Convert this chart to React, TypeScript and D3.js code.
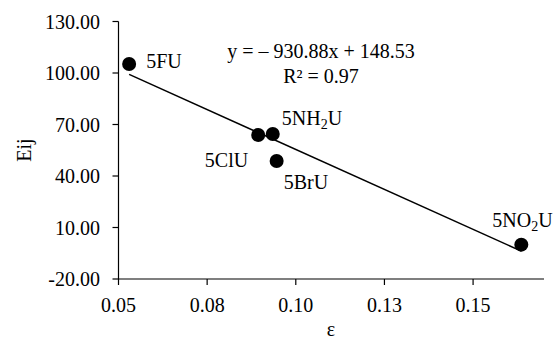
import * as d3 from "d3"

// compound data
const names = ["5FU", "5ClU", "5NH2U", "5BrU", "5NO2U"]
const epsilon = [0.053, 0.0894, 0.0935, 0.0946, 0.1636]
const eij = [105.2, 63.9, 64.5, 48.7, 0.0]

const xTicks = [0.05, 0.075, 0.1, 0.125, 0.15]
const xTickLabels = ["0.05", "0.08", "0.10", "0.13", "0.15"]
const yTicks = [-20, 10, 40, 70, 100, 130]

const slope = -930.88
const intercept = 148.53

// label offsets relative to each dot (dx, dy)
const labelOffsets: [number, number, string][] = [
  [17, 4, "start"],
  [-10, 32, "end"],
  [9, -9, "start"],
  [7, 28, "start"],
  [-29, -18, "start"],
]

const W = 555
const H = 341
const FONT = "'Liberation Serif', 'Times New Roman', serif"

function Label({ text }: { text: string }) {
  // render the 2 in NH2 / NO2 as subscript
  const m = text.match(/^(5N[HO])2(U)$/)
  if (!m) return <>{text}</>
  return (
    <>
      {m[1]}
      <tspan dy={4} fontSize={14}>2</tspan>
      <tspan dy={-4}>{m[2]}</tspan>
    </>
  )
}

export default function App() {
  const x = d3.scaleLinear().domain([0.05, 0.17]).range([118.5, 544])
  const y = d3.scaleLinear().domain([-20, 130]).range([279, 21.5])
  const fmt = (v: number) => v.toFixed(2) // keeps plain hyphen like the original

  const xMin = d3.min(epsilon) as number
  const xMax = d3.max(epsilon) as number
  const trend = d3
    .line<number>()
    .x((d) => x(d))
    .y((d) => y(slope * d + intercept))([xMin, xMax])

  const fs = 20

  return (
    <svg
      width={W}
      height={H}
      style={{ position: "absolute", left: 0, top: 0, background: "#fff" }}
      fontFamily={FONT}
      fill="#000"
    >
      {/* y axis */}
      <line x1={x(0.05)} x2={x(0.05)} y1={y(-20)} y2={y(130)} stroke="#000" strokeWidth={1.2} />
      {yTicks.map((t) => (
        <g key={t}>
          <line x1={x(0.05) - 6} x2={x(0.05)} y1={y(t)} y2={y(t)} stroke="#000" strokeWidth={1.2} />
          <text x={100} y={y(t)} dy="0.35em" textAnchor="end" fontSize={fs}>
            {fmt(t)}
          </text>
        </g>
      ))}

      {/* x axis */}
      <line x1={x(0.05)} x2={x(0.17)} y1={y(-20)} y2={y(-20)} stroke="#000" strokeWidth={1.2} />
      {xTicks.map((t, i) => (
        <g key={t}>
          <line x1={x(t)} x2={x(t)} y1={y(-20)} y2={y(-20) + 6} stroke="#000" strokeWidth={1.2} />
          <text x={x(t)} y={311.5} textAnchor="middle" fontSize={fs}>
            {xTickLabels[i]}
          </text>
        </g>
      ))}

      {/* axis titles */}
      <text x={331} y={336} textAnchor="middle" fontSize={fs}>
        ε
      </text>
      <text transform={`translate(31,150) rotate(-90)`} textAnchor="middle" fontSize={fs}>
        Eij
      </text>

      {/* trend line */}
      <path d={trend ?? ""} fill="none" stroke="#000" strokeWidth={1.5} />

      {/* points */}
      {epsilon.map((e, i) => (
        <circle key={names[i]} cx={x(e)} cy={y(eij[i])} r={7} fill="#000" />
      ))}

      {/* point labels */}
      {epsilon.map((e, i) => {
        const [dx, dy, anchor] = labelOffsets[i]
        return (
          <text
            key={names[i]}
            x={x(e) + dx}
            y={y(eij[i]) + dy}
            textAnchor={anchor as any}
            fontSize={fs}
          >
            <Label text={names[i]} />
          </text>
        )
      })}

      {/* regression equation */}
      <text x={321} y={58} textAnchor="middle" fontSize={fs}>
        y = – 930.88x + 148.53
      </text>
      <text x={321} y={82.5} textAnchor="middle" fontSize={fs}>
        R² = 0.97
      </text>
    </svg>
  )
}
